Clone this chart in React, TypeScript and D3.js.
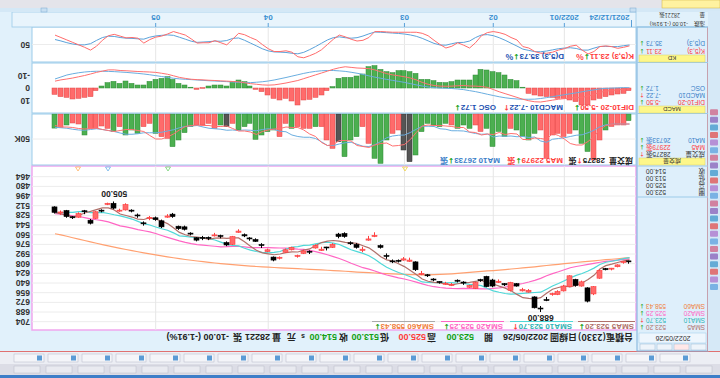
import React from "react";
import * as d3 from "d3";

// ---------- data ----------
const opens = [605,605,610,616,618,619,646,670,638,644,628,645,654,658,669,683,681,652,651,645,639,643,637,645,646,636,639,644,640,637,642,641,639,635,628,624,618,602,600,604,605,596,581,561,567,584,581,575,563,563,576,582,584,578,589,587,595,581,585,598,602,585,578,571,567,562,554,563,577,563,561,566,566,569,559,551,550,530,529,547,535,532,542,529,521,510,520,516,508,521,522,541,522,525,532,530,523,523];
const highs = [608,608,614,619,619,633,660,672,646,646,647,654,660,661,670,688,682,656,654,646,654,645,640,647,647,638,650,648,643,639,645,643,641,637,630,627,620,605,603,606,607,600,583,564,570,589,583,577,565,566,582,586,587,583,592,592,598,586,590,601,604,589,582,572,570,564,557,577,579,566,563,569,569,571,561,553,552,532,532,549,537,536,545,532,523,520,522,518,511,523,534,543,526,532,534,532,527,525];
const lows = [603,604,609,615,615,618,645,647,636,633,627,643,652,656,663,678,662,650,648,640,638,640,634,633,628,633,638,643,637,634,640,638,637,632,625,620,604,598,597,601,601,591,576,556,562,580,574,571,556,557,574,580,580,576,586,585,593,580,583,596,596,583,574,566,564,558,551,562,571,560,557,563,562,564,556,545,545,524,526,535,530,529,538,525,518,508,517,505,507,518,521,534,519,523,529,519,520,513];
const closes = [604,606,613,617,616,632,658,648,645,634,646,653,659,659,668,682,663,655,653,641,652,641,639,635,629,635,649,647,639,636,644,642,638,634,627,626,605,604,602,603,604,595,578,563,569,586,576,574,558,559,581,581,586,582,588,591,596,585,589,599,597,588,577,568,566,560,556,576,573,562,562,565,565,565,558,547,546,526,531,537,532,533,541,528,520,519,521,508,510,520,533,536,521,531,531,520,524,514];

const sma5 = [601.8,603.4,606.0,608.8,611.2,616.8,627.2,634.2,639.8,643.4,646.2,645.2,647.4,650.2,657.0,664.2,666.2,665.4,664.2,658.8,652.8,648.4,645.2,641.6,639.2,635.8,637.4,639.0,639.8,641.2,643.0,641.6,639.8,638.8,637.0,633.4,626.0,619.2,612.8,608.0,603.6,601.6,596.4,588.6,581.8,578.2,574.4,573.6,572.6,570.6,569.6,570.6,573.0,577.8,583.6,585.6,588.6,588.4,589.8,592.0,593.2,591.6,590.0,585.8,579.2,571.8,565.4,565.2,566.2,565.4,565.8,567.6,565.4,563.8,563.0,560.0,556.2,548.4,541.6,537.4,534.4,531.8,534.8,534.2,530.8,528.2,525.8,519.2,515.6,515.6,518.4,521.4,524.0,528.2,530.4,527.8,525.4,523.2];
const sma10 = [597.9,599.7,602.0,603.9,605.6,609.3,615.3,620.1,624.3,627.3,631.5,636.2,640.8,645.0,650.2,655.2,655.7,656.4,657.2,657.9,658.5,657.3,655.3,652.9,649.0,644.3,642.9,642.1,640.7,640.2,639.4,639.5,639.4,639.3,639.1,638.2,633.8,629.5,625.8,622.5,618.5,613.8,607.8,600.7,594.9,590.9,588.0,585.0,580.6,576.2,573.9,572.5,573.3,575.2,577.1,577.6,579.6,580.7,583.8,587.8,589.4,590.1,589.2,587.8,585.6,582.5,578.5,577.6,576.0,572.3,568.8,566.5,565.3,565.0,564.2,562.9,561.9,556.9,552.7,550.2,547.2,544.0,541.6,537.9,534.1,531.3,528.8,527.0,524.9,523.2,523.3,523.6,521.6,521.9,523.0,523.1,523.4,523.7];
const sma20 = [600.0,601.0,602.2,603.2,604.2,605.6,607.4,609.2,611.0,612.6,614.7,618.0,621.4,624.5,627.9,632.3,635.5,638.3,640.8,642.6,645.0,646.8,648.1,649.0,649.6,649.8,649.3,649.3,649.0,649.1,649.0,648.4,647.4,646.1,644.1,641.3,638.4,635.8,633.3,631.4,629.0,626.7,623.6,620.0,617.0,614.6,610.9,607.3,603.2,599.4,596.2,593.2,590.6,588.0,586.0,584.3,583.8,582.9,582.2,582.0,581.7,581.3,581.3,581.5,581.4,580.1,579.1,579.2,579.9,580.1,579.1,578.3,577.3,576.4,574.9,572.7,570.2,567.3,564.4,561.3,558.0,555.3,553.5,551.5,549.2,547.1,545.4,542.0,538.8,536.7,535.3,533.8,531.6,529.9,528.6,527.2,526.1,525.25];
const sma60 = [598.0,598.9,599.8,600.6,601.4,602.3,603.3,604.2,605.1,606.0,607.0,608.0,609.0,610.0,611.0,612.1,613.1,614.1,615.0,615.9,616.8,617.7,618.5,619.3,620.0,620.8,621.6,622.4,623.2,624.0,624.7,625.3,625.8,626.2,626.4,626.4,626.2,626.0,625.7,625.4,625.0,624.5,624.0,623.4,622.9,622.4,621.8,621.2,620.5,619.9,619.3,618.8,618.3,617.8,617.3,616.8,616.3,615.8,615.3,614.8,614.3,613.8,613.2,612.6,611.9,611.2,610.4,609.6,608.7,607.8,606.8,605.8,604.7,603.5,602.3,601.0,599.6,598.1,596.6,595.0,593.4,591.7,590.0,588.2,586.4,584.5,582.5,580.5,578.4,576.3,574.1,571.9,569.6,567.3,565.0,562.6,560.4,558.43];

const volumes = [13.3,22,22,25,32,52,92,75,58.7,32,38.7,45,38.7,42,88.7,32,38.7,52,45,32,28.7,45,35,65,28.7,35,22,28.7,22,28.7,22,18.7,25.3,22,18.7,35.3,82,95.3,72,32,38.7,52,98.7,88.7,58.7,25.3,45.3,52,85.3,55.3,68.7,52,25.3,25.3,28.7,28.7,25.3,28.7,18.7,45.3,32,35.3,42,50.7,18.7,25.3,32,18.7,25.3,22,28.7,18.7,22,22,25.3,37.3,52,65.3,48.7,45.3,38.7,18.7,25.3,38.7,32,42,25.3,35.3,28.7,24,28.7,28.7,42,20,18,22,26.7,28.2];
const grayVolDays = [37, 38, 49, 68];
const volMa5 = [20,20,20,21,23,31,45,55,62,62,59,50,43,39,51,49,48,51,51,40,39,41,37,41,40,42,37,36,27,27,25,24,23,23,22,24,37,51,61,63,64,58,59,62,67,65,63,54,53,53,61,63,57,45,40,32,27,27,26,29,30,32,35,41,36,34,34,29,24,25,25,23,23,22,23,25,32,40,46,50,50,43,35,33,31,31,33,35,33,31,28,29,30,29,27,26,26,22.98];
const volMa10 = [20,20,20,20.5,21.5,25.5,32.5,37.5,41.5,42.5,45,47.5,49,50.5,56.5,54,46,47,45,45.5,44,44.5,44,46,40,40.5,39,36.5,34,33.5,33.5,30.5,29.5,25,24.5,24.5,30.5,37,42,42.5,44,47.5,55,61.5,65,64.5,60.5,56.5,57.5,60,63,63,55.5,49,46.5,46.5,45,42,35.5,34.5,31,29.5,31,33.5,32.5,32,33,32,32.5,30.5,29.5,28.5,26,23,24,25,27.5,31.5,34,36.5,37.5,37.5,37.5,39.5,40.5,40.5,38,35,33,31,29.5,31,32.5,32,30.5,28.5,27.5,26.73];

const difVals = [0.5,1.0,1.5,2.0,2.5,3.5,5.0,6.5,7.5,7.8,8.0,8.5,9.0,9.7,10.5,11.2,11.0,10.2,9.0,7.5,6.0,4.5,3.0,1.2,-0.5,-1.2,-1.5,-1.6,-2.0,-1.8,-1.5,-1.4,-1.5,-2.0,-3.0,-4.5,-6.5,-8.0,-9.0,-9.8,-10.5,-11.5,-13.0,-14.5,-15.5,-15.8,-16.0,-16.5,-17.0,-16.2,-15.0,-13.5,-12.0,-10.5,-9.0,-7.5,-6.0,-5.0,-4.0,-3.2,-2.5,-2.3,-2.5,-3.0,-3.5,-4.2,-5.0,-5.2,-5.5,-5.7,-6.0,-6.2,-6.5,-6.7,-7.0,-7.7,-8.5,-9.8,-11.0,-11.8,-12.5,-12.8,-13.0,-13.2,-13.5,-13.8,-14.0,-14.5,-14.5,-13.5,-12.5,-11.2,-10.0,-9.0,-8.0,-7.2,-6.5,-5.5];
const macdVals = [-0.2,-0.3,-0.1,0.1,0.3,0.7,1.5,2.2,3.0,3.9,4.6,5.4,6.1,6.9,7.7,8.4,8.9,9.0,9.0,8.8,8.4,7.8,7.0,6.0,5.0,3.9,2.9,2.1,1.3,0.8,0.4,0.2,0.0,-0.3,-0.8,-1.6,-2.5,-3.5,-4.5,-5.3,-6.1,-6.9,-7.8,-8.7,-9.7,-10.9,-11.8,-12.6,-13.3,-13.7,-14.0,-14.0,-13.8,-13.3,-12.6,-11.7,-10.6,-9.5,-8.4,-7.4,-6.4,-5.6,-5.0,-4.6,-4.3,-4.3,-4.5,-4.8,-5.1,-5.3,-5.6,-5.8,-6.1,-6.4,-6.7,-7.0,-7.3,-7.8,-8.5,-9.2,-9.9,-10.6,-11.2,-11.7,-12.1,-12.5,-12.8,-13.1,-13.3,-13.4,-13.4,-13.2,-12.8,-12.2,-11.4,-10.4,-8.8,-7.22];
const oscVals = [2.1,4.3,4.8,5.6,6.9,8.3,9.6,13.6,13.6,10.9,9.6,8.3,8.3,7.5,6.9,6.4,5.6,4.3,-0.5,-5.9,-6.9,-10.4,-12.3,-13.1,-14.4,-14.9,-10.4,-6.4,-6.4,-6.4,-5.1,-4.3,-4.5,-5.9,-6.9,-6.9,-11.7,-13.1,-13.9,-13.9,-12.3,-13.1,-14.9,-17.9,-17.1,-11.2,-9.6,-8.5,-8.5,-7.7,-1.1,2.1,5.6,7.5,9.1,9.6,13.6,10.4,8.3,9.6,8.3,5.6,2.9,1.1,-1.6,-5.1,-6.4,-5.1,-1.6,-2.4,-2.4,-1.6,0.3,1.1,-0.5,-2.4,-3.7,-6.9,-9.1,-7.7,-6.9,-5.3,-2.4,-2.4,-3.7,-5.6,-3.7,-5.3,-4.3,-1.6,2.1,6.9,7.5,8.3,8.8,7.5,6.9,5.1];

const kVals = [54,58,61,56,54,56,70,77,66,52,55,62,66,72,75,75,70,60,56,37,30,21,16,13,16,25,45,60,52,45,55,60,50,38,25,18,15,15,15,15,15,14,13,13,30,38,40,35,28,23,35,50,65,75,82,88,85,72,68,70,70,62,50,37,30,22,18,35,51,45,39,45,45,46,34,23,18,13,20,26,29,36,46,32,30,31,26,21,25,38,55,66,58,51,44,37,30,23.11];
const dVals = [51.3,53.5,56.0,56.0,55.3,55.6,60.4,66.0,66.0,61.3,59.2,60.2,62.1,65.4,68.6,70.7,70.4,66.9,63.3,54.5,46.3,37.9,30.6,24.7,21.8,22.8,30.2,40.1,44.0,44.3,47.8,51.9,51.3,46.9,39.6,32.4,26.6,22.7,20.1,18.4,17.3,16.2,15.1,14.4,19.6,25.8,30.5,32.0,30.6,28.1,30.4,37.0,46.4,55.9,64.6,72.4,76.6,75.1,72.8,71.8,71.2,68.2,62.2,53.8,45.9,37.9,31.3,32.6,38.7,40.8,40.2,41.8,42.9,43.9,40.6,34.8,29.2,23.8,22.6,23.8,25.6,29.1,34.7,33.8,32.5,32.0,30.0,27.0,26.3,30.2,38.4,47.6,51.0,51.0,48.7,44.8,39.9,35.73];

const priceTicks = [464,480,496,512,528,544,560,576,592,608,624,640,656,672,688,704];
const dateTickIdx = [11, 23, 38, 61, 80];
const dateTickLabels = ["2022/01", "02", "03", "04", "05"];
const startDateLabel = "2021/12/24";
const highIdx = 15, highLabel = "688.00";
const lowIdx = 87, lowLabel = "505.00";

// ---------- styling ----------
const FONT = "'Liberation Sans', Arial, 'Noto Sans CJK TC', sans-serif";
const CJK = "'Noto Sans CJK TC', 'Liberation Sans', sans-serif";
const ARW = "'DejaVu Sans', sans-serif";
const RED = "#ff3c3c";
const GREEN = "#13a013";
const C_SMA5 = "#b0706a";
const C_SMA10 = "#4fd8d8";
const C_SMA20 = "#ff66c4";
const C_SMA60 = "#ffa070";
const C_K = "#ff6b6b";
const C_D = "#5aa2da";
const BLUE_T = "#1a4fb0";
const BG = "#e1f1fb";
const BORDER = "#9ccbe9";

const PL = 84, PR = 688;
const P_TOP = 48, P_BOT = 212;
const V_TOP = 213, V_BOT = 264;
const M_TOP = 265, M_BOT = 315;
const K_TOP = 316, K_BOT = 351;

export default function App() {
  const N = closes.length;
  const x = d3.scaleLinear().domain([0, N - 1]).range([90.5, 665]);
  const yP = d3.scaleLinear().domain([464, 704]).range([201.3, 56.3]);
  const yV = d3.scaleLinear().domain([0, 50]).range([V_BOT, V_BOT - 25]);
  const yM = d3.scaleLinear().domain([-10, 10]).range([302.5, 277.5]);
  const yK = d3.scaleLinear().domain([0, 100]).range([K_BOT, K_TOP]);

  const lineOf = (ys: d3.ScaleLinear<number, number>) =>
    d3.line<number>().x((_, i) => x(i)).y((d) => ys(d));

  const pLine = lineOf(yP);
  const vLine = lineOf(yV);
  const mLine = lineOf(yM);
  const kLine = lineOf(yK);

  const bw = 4;
  const gridX = dateTickIdx.map((i) => x(i));

  const panelFrame = (top: number, bot: number, stroke: string, sw = 1) => (
    <rect x={PL} y={top} width={PR - PL} height={bot - top} fill="white" stroke={stroke} strokeWidth={sw} />
  );
  const vGrid = (top: number, bot: number) =>
    gridX.map((gx, i) => (
      <line key={"vg" + top + i} x1={gx} x2={gx} y1={top} y2={bot} stroke="#e6e6e6" strokeWidth={1} />
    ));

  // label + value + arrow (+ suffix) as a single text element
  const lbl = (
    xx: number,
    yy: number,
    text: string,
    col: string,
    up: boolean | null,
    suffix = "",
    size = 8,
    fam = FONT
  ) => (
    <text x={xx} y={yy} fontSize={size} fontWeight="bold" fill={col} fontFamily={fam}>
      {text}
      {up !== null && (
        <tspan fill={up ? RED : GREEN} fontFamily={ARW} fontSize={size - 0.5}>
          {up ? "↑" : "↓"}
        </tspan>
      )}
      {suffix && <tspan fontFamily={CJK}>{suffix}</tspan>}
    </text>
  );

  // info panel row helper
  const infoRow = (label: string, val: string, y: number, col: string, up: boolean | null, valCol?: string) => (
    <g key={label + y}>
      <text x={15} y={y} fontSize={6.5} fill={col} fontFamily={FONT}>{label}</text>
      <text x={74} y={y} fontSize={6.5} fill={valCol || col} textAnchor="end" fontFamily={FONT}>{val}</text>
      {up !== null && (
        <text x={75.5} y={y} fontSize={6} fill={up ? RED : GREEN} fontFamily={ARW}>{up ? "↑" : "↓"}</text>
      )}
    </g>
  );

  const yellowHeader = (y: number, label: string) => (
    <g>
      <rect x={15} y={y} width={66} height={7} fill="#fdf78a" stroke="#d8d070" strokeWidth={0.5} />
      <text x={48} y={y + 5.8} fontSize={6} textAnchor="middle" fill="#333" fontFamily={FONT}>{label}</text>
    </g>
  );

  return (
    <svg
      width={720}
      height={378}
      style={{ position: "absolute", left: 0, top: 0, display: "block" }}
      fontFamily={FONT}
    >
      <g transform="rotate(180 360 189)">
        {/* background */}
        <rect x={0} y={0} width={720} height={378} fill={BG} />

        {/* top toolbars */}
        <rect x={0} y={0} width={720} height={3} fill="#3d7ec8" />
        <rect x={0} y={3} width={720} height={11} fill="#dcdde6" />
        <rect x={0} y={14} width={720} height={12} fill="#eceef4" />
        {d3.range(0, 22).map((i) => (
          <rect key={"tb1" + i} x={8 + i * 32} y={5} width={26} height={7} fill="#e9eaf0" stroke="#b8bcc8" strokeWidth={0.5} />
        ))}
        {d3.range(0, 20).map((i) => (
          <g key={"tb2" + i}>
            <rect x={30 + i * 34} y={16} width={30} height={8} fill="#f4f5f9" stroke="#b5b9c6" strokeWidth={0.5} />
            <rect x={32 + i * 34} y={17.5} width={5} height={5} fill="#5b9bd5" />
          </g>
        ))}
        <line x1={0} x2={720} y1={26.5} y2={26.5} stroke="#e07070" strokeWidth={1} />

        {/* info bar */}
        <g fontSize={9} fontWeight="bold" fill="#222">
          <text x={87} y={44} fontFamily={CJK}>台積電(2330)</text>
          <text x={143} y={44} fontFamily={CJK}>日線圖</text>
          <text x={172} y={44}>2022/05/26</text>
          <text x={227} y={44} fontFamily={CJK}>開</text>
          <text x={246} y={44} fill={GREEN}>523.00</text>
          <text x={284} y={44} fontFamily={CJK}>高</text>
          <text x={294} y={44} fill={RED}>525.00</text>
          <text x={331} y={44} fontFamily={CJK}>低</text>
          <text x={341} y={44} fill={GREEN}>513.00</text>
          <text x={372} y={44} fontFamily={CJK}>收</text>
          <text x={383} y={44} fill={GREEN}>514.00</text>
          <text x={415} y={44} fontSize={7}>s</text>
          <text x={424} y={44} fontFamily={CJK}>元</text>
          <text x={439} y={44} fontFamily={CJK}>量</text>
          <text x={450} y={44}>28221</text>
          <text x={478} y={44} fontFamily={CJK}>張</text>
          <text x={491} y={44}>-10.00 (-1.91%)</text>
        </g>

        {/* ===== price panel ===== */}
        {panelFrame(P_TOP, P_BOT, "#f0a6ee", 1.5)}
        {priceTicks.map((p) => (
          <line key={"pg" + p} x1={PL} x2={PR} y1={yP(p)} y2={yP(p)} stroke="#ececec" />
        ))}
        {vGrid(P_TOP, P_BOT)}
        {priceTicks.map((p) => (
          <text key={"pt" + p} x={690} y={yP(p) + 3} fontSize={8.5} fontWeight="bold" fill="#333">{p}</text>
        ))}
        <path d={pLine(sma60) || ""} fill="none" stroke={C_SMA60} strokeWidth={1.2} />
        <path d={pLine(sma20) || ""} fill="none" stroke={C_SMA20} strokeWidth={1.2} />
        <path d={pLine(sma10) || ""} fill="none" stroke={C_SMA10} strokeWidth={1.2} />
        <path d={pLine(sma5) || ""} fill="none" stroke={C_SMA5} strokeWidth={1.2} />
        {closes.map((c, i) => {
          const o = opens[i];
          const up = c >= o;
          const col = up ? RED : "#000";
          const top = yP(Math.max(o, c));
          const h = Math.max(1, Math.abs(yP(o) - yP(c)));
          const cx = Math.round(x(i)) + 0.5;
          return (
            <g key={"c" + i}>
              <line x1={cx} x2={cx} y1={yP(highs[i])} y2={yP(lows[i])} stroke={col} strokeWidth={1} />
              <rect x={cx - bw / 2 - 0.5} y={top} width={bw + 1} height={h} fill={up ? "#ff6a6a" : "#000"} stroke={col} strokeWidth={0.6} />
            </g>
          );
        })}
        <text x={x(highIdx)} y={yP(highs[highIdx]) - 3} fontSize={8.5} fontWeight="bold" textAnchor="middle" fill="#222">{highLabel}</text>
        <text x={x(lowIdx)} y={yP(lows[lowIdx]) + 10} fontSize={8.5} fontWeight="bold" textAnchor="middle" fill="#222">{lowLabel}</text>
        {/* legend */}
        <line x1={85} x2={142} y1={56.5} y2={56.5} stroke={C_SMA5} />
        {lbl(86, 54.5, "SMA5 523.20", C_SMA5, false)}
        <line x1={147} x2={210} y1={56.5} y2={56.5} stroke={C_SMA10} />
        {lbl(148, 54.5, "SMA10 523.70", "#30b4b4", true)}
        <line x1={216} x2={279} y1={56.5} y2={56.5} stroke={C_SMA20} />
        {lbl(217, 54.5, "SMA20 525.25", C_SMA20, false)}
        <line x1={285} x2={348} y1={56.5} y2={56.5} stroke="#aaa" />
        {lbl(286, 54.5, "SMA60 558.43", "#f08040", false)}
        {/* event markers */}
        {[{ xx: 642, c: "#ffb060" }, { xx: 612, c: "#6ab0e8" }, { xx: 552, c: "#70d070" }, { xx: 315, c: "#f0d040" }].map((m, i) => (
          <path key={"mk" + i} d={`M${m.xx - 2.5},${P_BOT - 1} L${m.xx + 2.5},${P_BOT - 1} L${m.xx},${P_BOT - 5} Z`} fill="none" stroke={m.c} strokeWidth={0.8} />
        ))}

        {/* ===== volume panel ===== */}
        {panelFrame(V_TOP, V_BOT, BORDER)}
        {vGrid(V_TOP, V_BOT)}
        <line x1={PL} x2={PR} y1={yV(50)} y2={yV(50)} stroke="#ececec" />
        {volumes.map((v, i) => {
          const gray = grayVolDays.includes(i);
          const up = i === 0 ? closes[0] >= opens[0] : closes[i] >= closes[i - 1];
          const fill = gray ? "#555" : up ? "#ff6b6b" : "#4caf50";
          return (
            <rect key={"v" + i} x={Math.round(x(i)) - bw / 2} y={yV(v)} width={bw + 1} height={V_BOT - yV(v)} fill={fill} stroke={gray ? "#333" : up ? "#e04848" : "#2e8b36"} strokeWidth={0.5} />
          );
        })}
        <path d={vLine(volMa10) || ""} fill="none" stroke="#6aaee0" strokeWidth={1} />
        <path d={vLine(volMa5) || ""} fill="none" stroke="#ff7070" strokeWidth={1} />
        <text x={690} y={yV(50) + 3} fontSize={8.5} fontWeight="bold" fill="#333">50K</text>
        {lbl(87, 220, "", "#222", null, "成交量")}
        {lbl(115, 220, "28275", "#222", true, "張")}
        {lbl(157, 220, "MA5 22979", RED, false, "張")}
        {lbl(220, 220, "MA10 26733", "#3a80c8", false, "張")}

        {/* ===== MACD panel ===== */}
        {panelFrame(M_TOP, M_BOT, BORDER)}
        {vGrid(M_TOP, M_BOT)}
        {oscVals.map((v, i) => {
          const y0 = yM(0), y1 = yM(v);
          return (
            <rect key={"o" + i} x={Math.round(x(i)) - bw / 2} y={Math.min(y0, y1)} width={bw + 1} height={Math.max(0.8, Math.abs(y1 - y0))} fill={v >= 0 ? "#ff6b6b" : "#4caf50"} stroke={v >= 0 ? "#e04848" : "#2e8b36"} strokeWidth={0.5} />
          );
        })}
        <path d={mLine(macdVals) || ""} fill="none" stroke="#6aaee0" strokeWidth={1} />
        <path d={mLine(difVals) || ""} fill="none" stroke="#ff7070" strokeWidth={1} />
        {[10, 0, -10].map((t) => (
          <text key={"mt" + t} x={690} y={yM(t) + 3} fontSize={8.5} fontWeight="bold" fill="#333">{t}</text>
        ))}
        {lbl(86, 273.5, "DIF10-20 -5.50", RED, false)}
        {lbl(157, 273.5, "MACD10 -7.22", BLUE_T, true)}
        {lbl(224, 273.5, "OSC 1.72", BLUE_T, false)}

        {/* ===== KD panel ===== */}
        {panelFrame(K_TOP, K_BOT, BORDER)}
        {vGrid(K_TOP, K_BOT)}
        <line x1={PL} x2={PR} y1={yK(50)} y2={yK(50)} stroke="#ececec" />
        <path d={kLine(dVals) || ""} fill="none" stroke={C_D} strokeWidth={1} />
        <path d={kLine(kVals) || ""} fill="none" stroke={C_K} strokeWidth={1} />
        <text x={690} y={yK(50) + 3} fontSize={8.5} fontWeight="bold" fill="#333">50</text>
        {lbl(86, 324.5, "K(5,3) 23.11", RED, false, "%")}
        {lbl(156, 324.5, "D(5,3) 35.73", BLUE_T, false, "%")}

        {/* ===== date axis ===== */}
        <rect x={PL} y={351} width={PR - PL + 20} height={15} fill="#e8f4fc" stroke={BORDER} strokeWidth={0.8} />
        <line x1={x(0) - 2} x2={x(0) - 2} y1={351} y2={358} stroke="#5aa0d8" />
        <text x={x(0)} y={363} fontSize={8} fontWeight="bold" fill="#3a8fd0">{startDateLabel}</text>
        {dateTickIdx.map((di, i) => (
          <g key={"dt" + i}>
            <line x1={x(di)} x2={x(di)} y1={351} y2={355} stroke="#5aa0d8" />
            <text x={x(di)} y={363} fontSize={8} fontWeight="bold" textAnchor="middle" fill="#3a8fd0">{dateTickLabels[i]}</text>
          </g>
        ))}
        <rect x={0} y={366} width={720} height={4} fill="#d4e8f6" />
        <rect x={0} y={370} width={720} height={8} fill="#e4e4ea" />
        <rect x={0} y={370} width={58} height={8} fill="#fff2a0" stroke="#d0b040" strokeWidth={0.5} />
        <rect x={673} y={366} width={6} height={4} fill="#c8dff2" stroke="#7aa8d0" strokeWidth={0.5} />
        <rect x={84} y={366} width={6} height={4} fill="#c8dff2" stroke="#7aa8d0" strokeWidth={0.5} />

        {/* ===== info panel (left) ===== */}
        <rect x={12} y={27} width={71} height={324} fill="#deeffb" stroke="#7cb2dc" strokeWidth={1} />
        <line x1={12} x2={12} y1={27} y2={351} stroke="#e07070" strokeWidth={1} />
        {[0, 1, 2, 3].map((i) => (
          <rect key={"tab" + i} x={14 + i * 17} y={28} width={15} height={6} fill={i === 1 ? "#ffe8e8" : "#eef4fa"} stroke="#9ab8d4" strokeWidth={0.5} />
        ))}
        <rect x={14} y={35} width={67} height={10} fill="#eef6fd" stroke="#9ccbe9" strokeWidth={0.5} />
        <text x={47} y={42.5} fontSize={7} textAnchor="middle" fill="#333">2022/05/26</text>
        {infoRow("SMA5", "523.20", 53, C_SMA5, false)}
        {infoRow("SMA10", "523.70", 60, "#30b4b4", true)}
        {infoRow("SMA20", "525.25", 67, C_SMA20, false)}
        {infoRow("SMA60", "558.43", 74, "#f08040", false)}

        <line x1={12} x2={83} y1={181} y2={181} stroke="#9ccbe9" />
        {infoRow("開", "523.00", 188, "#333", null)}
        {infoRow("高", "525.00", 195, "#333", null)}
        {infoRow("低", "513.00", 202, "#333", null)}
        {infoRow("收", "514.00", 209, "#333", null)}
        <line x1={12} x2={83} y1={212} y2={212} stroke="#9ccbe9" />

        {yellowHeader(213, "成交量")}
        {infoRow("成交量", "28275張", 226, "#333", true)}
        {infoRow("MA5", "22979張", 233, RED, false)}
        {infoRow("MA10", "26733張", 240, "#3a80c8", false)}
        <line x1={12} x2={83} y1={264.5} y2={264.5} stroke="#9ccbe9" />

        {yellowHeader(265, "MACD")}
        {infoRow("DIF10-20", "-5.50", 278, RED, false)}
        {infoRow("MACD10", "-7.22", 285, "#3a80c8", true)}
        {infoRow("OSC", "1.72", 292, "#3a80c8", false)}
        <line x1={12} x2={83} y1={315.5} y2={315.5} stroke="#9ccbe9" />

        {yellowHeader(316, "KD")}
        {infoRow("K(5,3)", "23.11", 329, RED, false)}
        {infoRow("D(5,3)", "35.73", 337, "#3a80c8", false)}
        <line x1={12} x2={83} y1={351} y2={351} stroke="#9ccbe9" />
        <text x={15} y={356.5} fontSize={5.5} fill="#333" fontFamily={CJK}>漲跌</text>
        <text x={32} y={356.5} fontSize={5.5} fill="#333">-10.00 (-1.91%)</text>
        <text x={15} y={365} fontSize={5.5} fill="#333" fontFamily={CJK}>量</text>
        <text x={40} y={365} fontSize={5.5} fill="#333" fontFamily={CJK}>28221張</text>

        {/* left icon strip */}
        <rect x={0} y={27} width={12} height={340} fill="#d6e9f7" />
        {d3.range(0, 24).map((i) => {
          const cols = ["#6aa8e0", "#b080d0", "#e06060", "#50a0d0", "#9070c0", "#d07090"];
          return <rect key={"ic" + i} x={2} y={88 + i * 7.6} width={8} height={6} rx={1} fill={cols[i % cols.length]} opacity={0.85} />;
        })}
      </g>
    </svg>
  );
}
